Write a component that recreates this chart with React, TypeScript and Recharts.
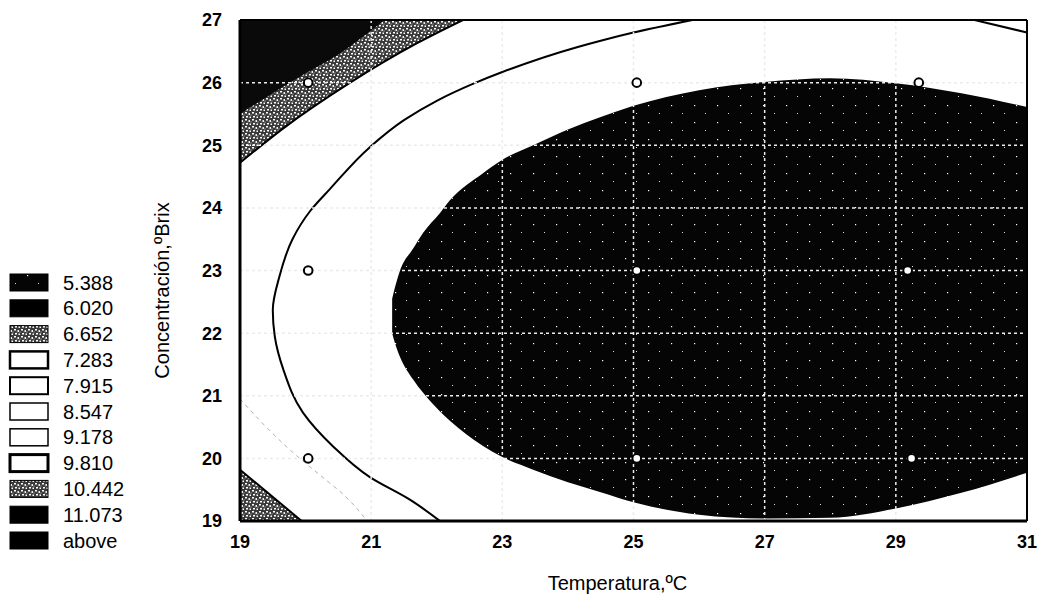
import { ComposedChart, Area, Line, Scatter, XAxis, YAxis, ReferenceLine, Label } from 'recharts'

const xTicks = [19, 21, 23, 25, 27, 29, 31]
const yTicks = [19, 20, 21, 22, 23, 24, 25, 26, 27]

// dark core region, lower and upper edge
const coreX = [21.32, 21.36, 21.44, 21.64, 21.79, 22.05, 22.2, 22.7, 23.0, 23.47, 24.0, 24.5, 25.0, 26.0, 27.0, 28.0, 29.0, 30.0, 31.0]
const coreLo = [22.0, 21.85, 21.62, 21.26, 21.05, 20.75, 20.6, 20.2, 20.02, 19.82, 19.62, 19.46, 19.3, 19.1, 19.04, 19.05, 19.2, 19.45, 19.77]
const coreHi = [22.55, 22.72, 23.0, 23.35, 23.6, 23.92, 24.12, 24.55, 24.77, 25.0, 25.25, 25.45, 25.63, 25.88, 26.01, 26.07, 25.99, 25.83, 25.61]

// the drawn contour line (C shape) and its little piece top right
const lineX = [25.9, 25.0, 24.5, 24.15, 23.0, 22.55, 22.0, 21.5, 20.98, 20.37, 20.07, 19.8, 19.6, 19.5, 19.53, 19.66, 19.96, 20.42, 20.98, 21.59, 22.05]
const lineY = [27.0, 26.8, 26.67, 26.57, 26.17, 25.98, 25.71, 25.4, 24.97, 24.3, 23.95, 23.5, 22.9, 22.37, 21.95, 21.42, 20.73, 20.19, 19.7, 19.34, 19.0]
const rightX = [30.2, 31.0]
const rightY = [27.0, 26.8]

// top-left corner: stippled band and black corner (lower edge, up to 27)
const bandX = [19, 19.66, 20.68, 21.7, 22.4]
const bandLo = [24.72, 25.27, 26.0, 26.63, 27.0]
const cornerX = [19, 20.0, 20.5, 21.2]
const cornerLo = [25.5, 26.15, 26.45, 27.0]

// bottom-left stippled triangle (upper edge, down to 19)
const triX = [19, 19.94]
const triHi = [19.82, 19.0]

// faint grey contour, bottom left
const faintX = [19, 19.4, 19.8, 20.2, 20.6, 20.94]
const faintY = [20.95, 20.5, 20.1, 19.75, 19.4, 19.0]

// experimental points
const obsX = [20.04, 25.05, 29.35, 20.04, 25.05, 29.18, 20.04, 25.05, 29.24]
const obsY = [26, 26, 26, 23, 23, 23, 20, 20, 20]

const levels = ['5.388', '6.020', '6.652', '7.283', '7.915', '8.547', '9.178', '9.810', '10.442', '11.073', 'above']

const core = coreX.map((x, i) => ({ x, r: [coreLo[i], coreHi[i]] }))
const band = bandX.map((x, i) => ({ x, r: [bandLo[i], 27] }))
const corner = cornerX.map((x, i) => ({ x, r: [cornerLo[i], 27] }))
const tri = triX.map((x, i) => ({ x, r: [19, triHi[i]] }))
const contour = lineX.map((x, i) => ({ x, y: lineY[i] }))
const contourR = rightX.map((x, i) => ({ x, y: rightY[i] }))
const faint = faintX.map((x, i) => ({ x, y: faintY[i] }))
const obs = obsX.map((x, i) => ({ x, y: obsY[i] }))

const font = '"Liberation Sans", Arial, sans-serif'

function Patterns() {
  return (
    <defs>
      <pattern id="stip" width="7" height="7" patternUnits="userSpaceOnUse">
        <rect width="7" height="7" fill="#3a3a3a" />
        <rect x="0" y="0" width="2" height="1.5" fill="#fff" />
        <rect x="3.5" y="1" width="1.5" height="2" fill="#eee" />
        <rect x="1" y="4" width="2" height="1.5" fill="#fff" />
        <rect x="4.5" y="4.5" width="1.5" height="1.5" fill="#fff" />
        <rect x="5.5" y="2.5" width="1" height="1" fill="#ccc" />
        <rect x="2.5" y="2.5" width="1" height="1" fill="#999" />
      </pattern>
      <pattern id="speck" width="23" height="17" patternUnits="userSpaceOnUse">
        <rect width="23" height="17" fill="#050505" />
        <rect x="4" y="3" width="1.2" height="1.2" fill="#fff" />
        <rect x="15" y="11" width="1" height="1" fill="#ddd" />
      </pattern>
    </defs>
  )
}

const Ring = (p: any) => <circle cx={p.cx} cy={p.cy} r={4.3} fill="#fff" stroke="#000" strokeWidth={2} />

function LegendBox() {
  const fills = ['url(#speck)', '#000', 'url(#stip)', '#fff', '#fff', '#fff', '#fff', '#fff', 'url(#stip)', '#000', '#000']
  const strokes = [0, 0, 0, 2.5, 2, 1.5, 1.5, 3, 0, 0, 0]
  return (
    <svg width={170} height={597} style={{ position: 'absolute', left: 0, top: 0 }}>
      <Patterns />
      {levels.map((lv, i) => {
        const cy = 282.5 + i * 25.8
        return (
          <g key={lv}>
            <rect x={10} y={cy - 8.5} width={38} height={17} fill={fills[i]} stroke="#000" strokeWidth={strokes[i] || 1} />
            <text x={63} y={cy} dominantBaseline="central" fontSize={20} fontFamily={font} fill="#000">{lv}</text>
          </g>
        )
      })}
    </svg>
  )
}

export default function App() {
  const tick = { fill: '#000', fontSize: 18, fontFamily: font, fontWeight: 'bold' }
  return (
    <div style={{ position: 'absolute', left: 0, top: 0, width: 1040, height: 597, background: '#fff', fontFamily: font }}>
      <ComposedChart width={1040} height={597} margin={{ top: 20, right: 13, bottom: 0, left: 0 }}>
        <Patterns />
        <XAxis type="number" dataKey="x" domain={[19, 31]} ticks={xTicks} allowDataOverflow height={76}
          axisLine={{ stroke: '#000', strokeWidth: 3 }} tickLine={false} tickSize={6} tickMargin={8} tick={tick}>
          <Label value="Temperatura,ºC" position="insideBottom" offset={7} dx={-16} fill="#000" fontSize={20} fontFamily={font} />
        </XAxis>
        <YAxis type="number" dataKey="y" domain={[19, 27]} ticks={yTicks} allowDataOverflow width={240}
          axisLine={{ stroke: '#000', strokeWidth: 3 }} tickLine={false} tickSize={6} tickMargin={12} tick={tick}>
          <Label value="Concentración,ºBrix" position="center" angle={-90} dx={42} dy={20} fill="#000" fontSize={20} fontFamily={font} />
        </YAxis>
        <Area data={band} dataKey="r" type="monotone" fill="url(#stip)" fillOpacity={1} stroke="#000" strokeWidth={2} isAnimationActive={false} />
        <Area data={corner} dataKey="r" type="monotone" fill="#0a0a0a" fillOpacity={1} stroke="none" isAnimationActive={false} />
        <Area data={tri} dataKey="r" type="linear" fill="url(#stip)" fillOpacity={1} stroke="#000" strokeWidth={2} isAnimationActive={false} />
        <Area data={core} dataKey="r" type="monotone" fill="url(#speck)" fillOpacity={1} stroke="none" isAnimationActive={false} />
        <Line data={faint} dataKey="y" type="monotoneY" stroke="#b0b0b0" strokeWidth={1} strokeDasharray="4 4" dot={false} isAnimationActive={false} />
        <Line data={contour} dataKey="y" type="monotoneY" stroke="#000" strokeWidth={2} dot={false} isAnimationActive={false} />
        <Line data={contourR} dataKey="y" type="linear" stroke="#000" strokeWidth={2} dot={false} isAnimationActive={false} />
        {xTicks.slice(1, -1).map((v) => (
          <ReferenceLine key={'x' + v} x={v} stroke="#ececec" strokeWidth={1.5} strokeDasharray="3 3" />
        ))}
        {yTicks.slice(1, -1).map((v) => (
          <ReferenceLine key={'y' + v} y={v} stroke="#ececec" strokeWidth={1.5} strokeDasharray="3 3" />
        ))}
        <ReferenceLine y={27} stroke="#000" strokeWidth={2} />
        <ReferenceLine x={31} stroke="#000" strokeWidth={2} />
        <Scatter data={obs} dataKey="y" shape={Ring} isAnimationActive={false} />
      </ComposedChart>
      <LegendBox />
    </div>
  )
}
